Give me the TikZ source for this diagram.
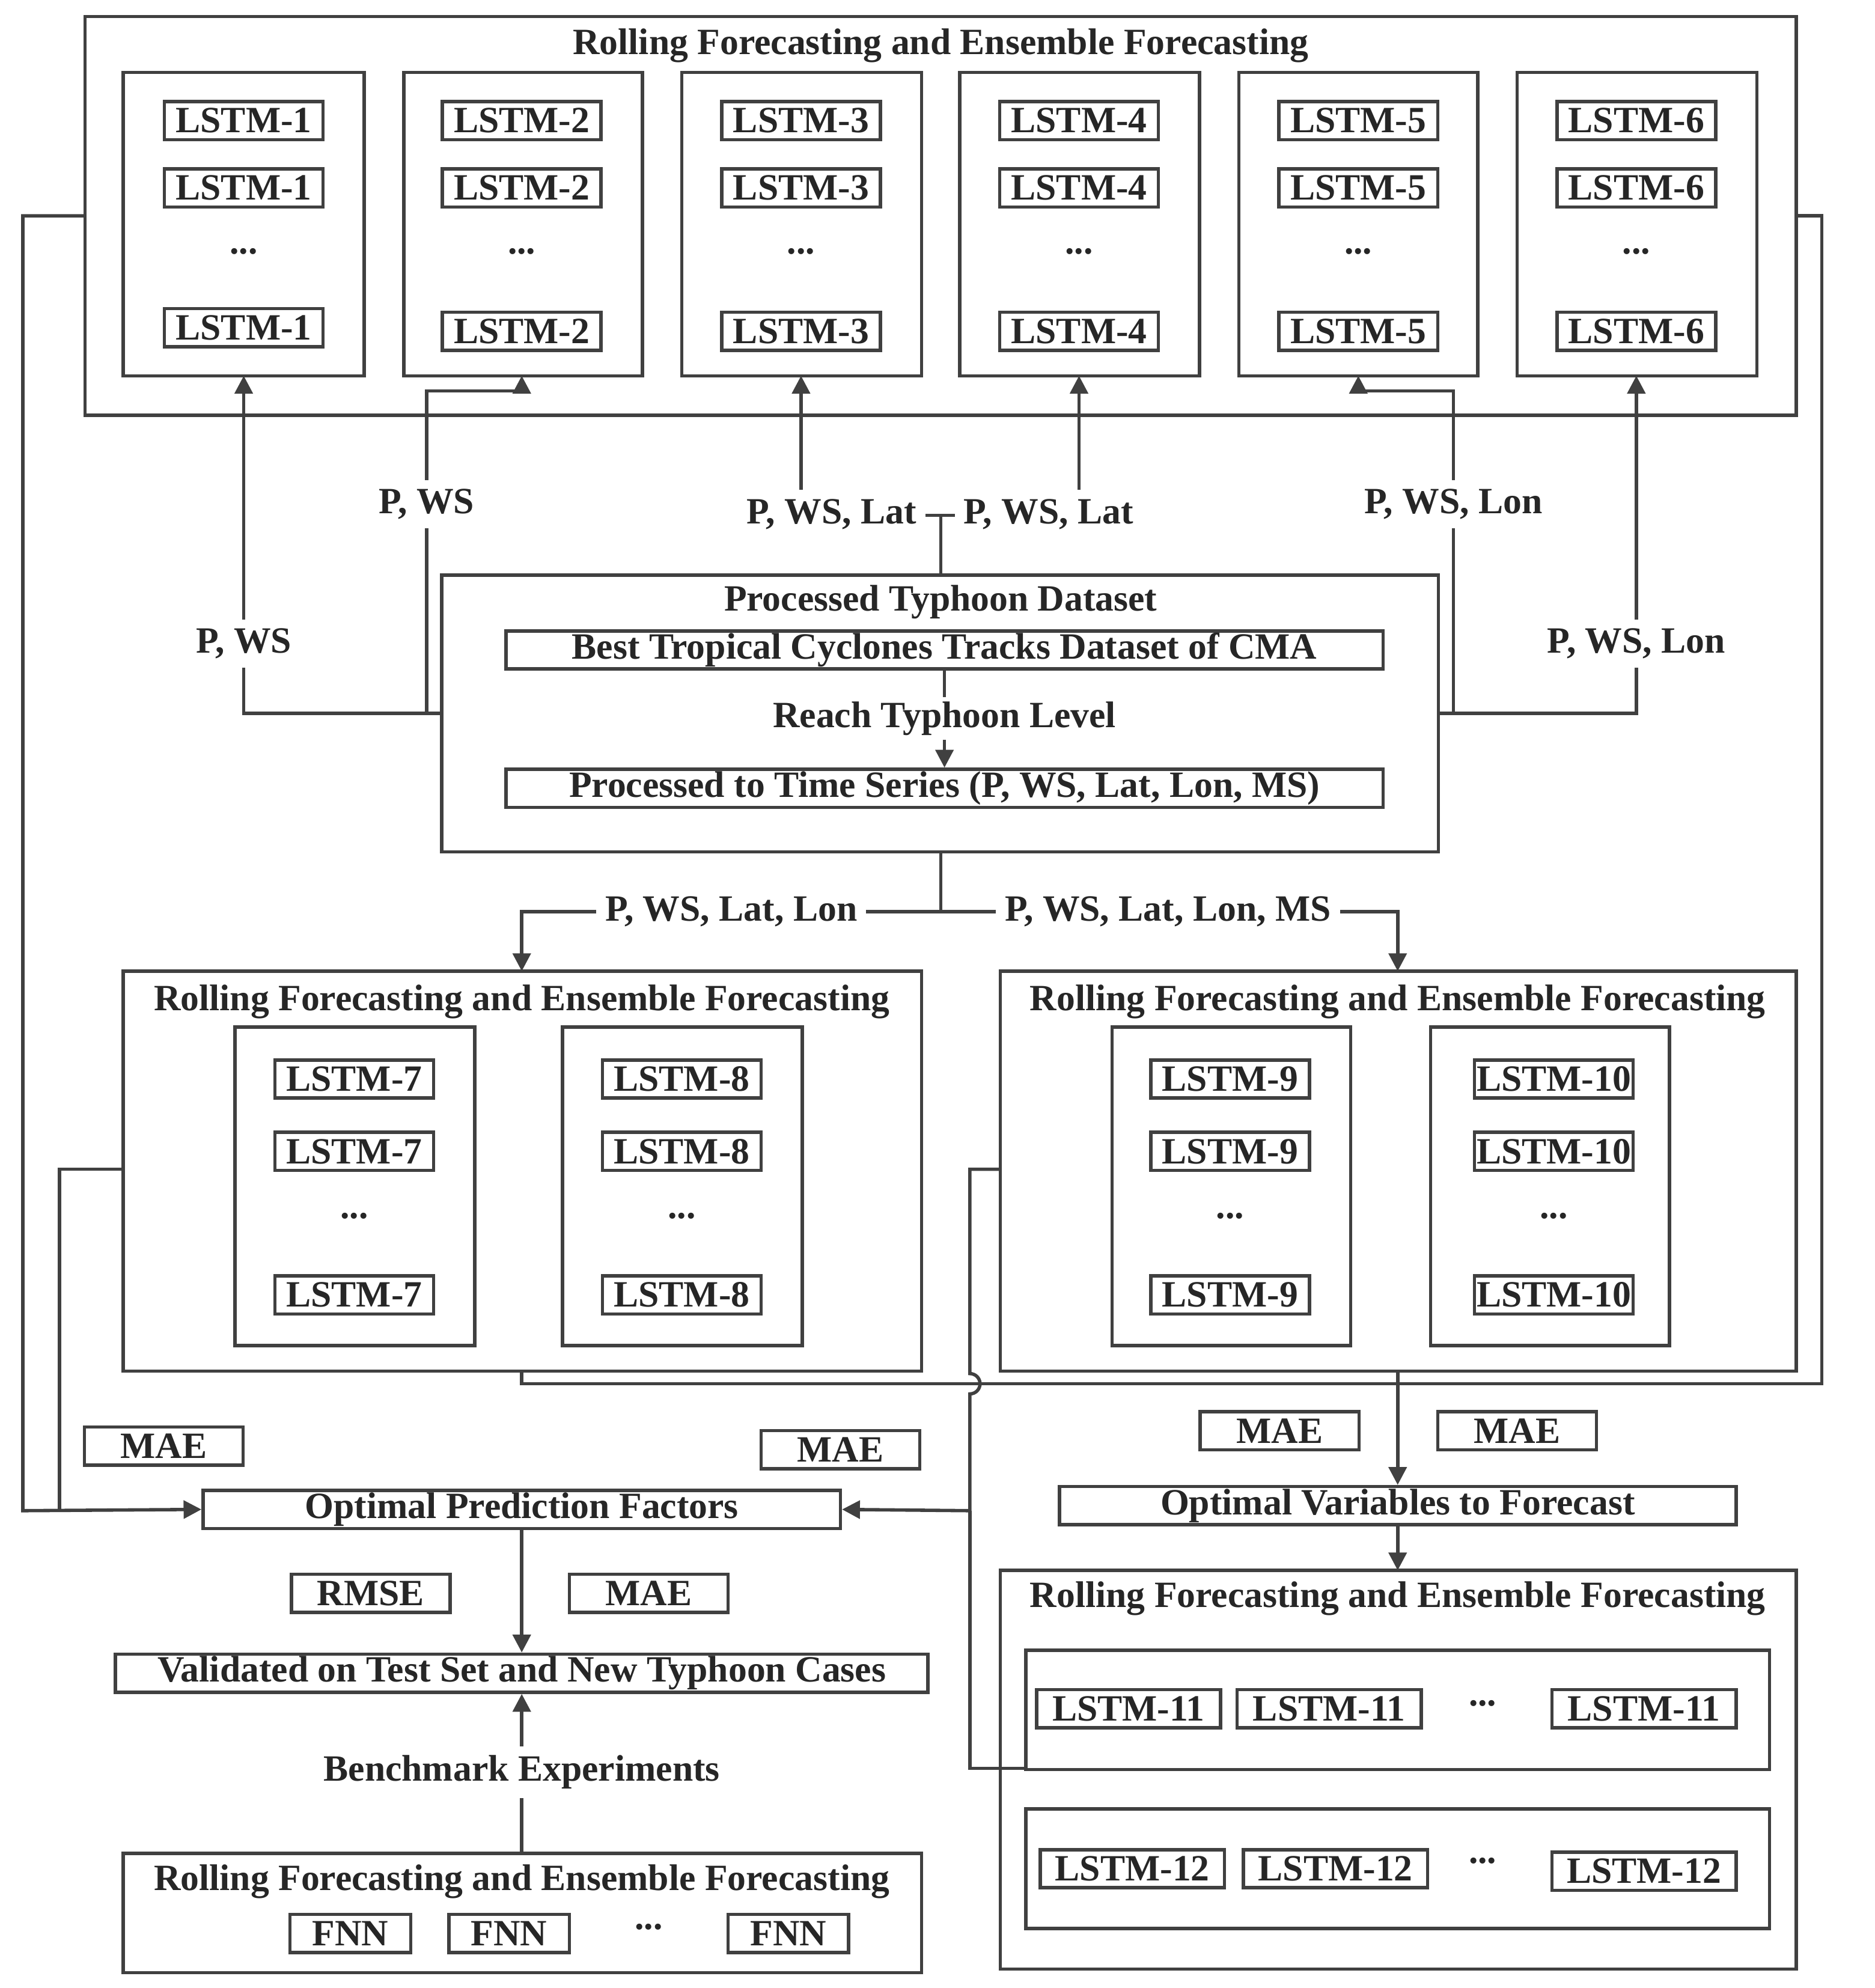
\documentclass[tikz,border=0pt]{standalone}
\usepackage{fontspec}
\setmainfont{Liberation Serif}
\usetikzlibrary{arrows.meta}
\begin{document}
\begin{tikzpicture}[x=0.01cm,y=-0.01cm,
  every node/.style={font=\fontsize{8.3}{10}\selectfont\bfseries,text=black!85,inner sep=1pt},
  ln/.style={draw=black!75,line width=0.75pt},
  ar/.style={ln,-{Triangle[length=4pt,width=4pt]}},
  sb/.style={draw=black!75,line width=0.75pt,minimum width=#1*0.01cm,minimum height=0.3cm,inner sep=0pt},
  sb/.default=125,
  lb/.style={fill=white,inner sep=2pt}]
\useasboundingbox (0,0) rectangle (1477,1566);
% top box
\draw[ln] (67,13) rectangle (1415,327);
\node (t1) at (741,36) {Rolling Forecasting and Ensemble Forecasting};
\foreach \a/\b/\c/\n/\ly in {97/287/192/1/258,318/506/411/2/261,537/726/631/3/261,756/945/850/4/261,976/1164/1070/5/261,1195/1384/1289/6/261}{
  \draw[ln] (\a,57) rectangle (\b,296);
  \node[sb] (c\n a) at (\c,95) {LSTM-\n};
  \node[sb] (c\n b) at (\c,148) {LSTM-\n};
  \node (c\n c) at (\c,198) {...};
  \node[sb] (c\n d) at (\c,\ly) {LSTM-\n};
}
% center box
\draw[ln] (348,453) rectangle (1133,671);
\node (pt) at (741,474) {Processed Typhoon Dataset};
\node[sb=691] (best) at (744,512) {Best Tropical Cyclones Tracks Dataset of CMA};
\node[sb=691] (proc) at (744,621) {Processed to Time Series (P, WS, Lat, Lon, MS)};
\draw[ar] (best.south) -- (proc.north);
\node[fill=white] (reach) at (744,566) {Reach Typhoon Level};
% upward connectors
\coordinate (bl) at (348,562); \coordinate (br) at (1133,562);
\draw[ar] (bl) -- (192,562) -- (192,296);
\node[lb] at (192,507) {P, WS};
\draw[ar] (336,562) -- (336,308) -- (411,308) -- (411,296);
\node[lb] at (336,397) {P, WS};
\draw[ar] (br) -- (1289,562) -- (1289,296);
\node[lb] at (1289,507) {P, WS, Lon};
\draw[ar] (1145,562) -- (1145,308) -- (1070,308) -- (1070,296);
\node[lb] at (1145,397) {P, WS, Lon};
\draw[ln] (741,453) -- (741,406);
\draw[ar] (741,406) -- (631,406) -- (631,296);
\draw[ar] (741,406) -- (850,406) -- (850,296);
\node[lb] at (655,405) {P, WS, Lat};
\node[lb] at (826,405) {P, WS, Lat};
% downward
\draw[ln] (741,671) -- (741,718);
\draw[ar] (741,718) -- (411,718) -- (411,765);
\draw[ar] (741,718) -- (1101,718) -- (1101,765);
\node[lb] at (576,718) {P, WS, Lat, Lon};
\node[lb] at (920,718) {P, WS, Lat, Lon, MS};
% middle boxes
\draw[ln] (97,765) rectangle (726,1080);
\node at (411,789) {Rolling Forecasting and Ensemble Forecasting};
\draw[ln] (788,765) rectangle (1415,1080);
\node at (1101,789) {Rolling Forecasting and Ensemble Forecasting};
\foreach \a/\b/\c/\n in {185/374/279/7,443/632/537/8,876/1064/969/9,1127/1315/1224/10}{
  \draw[ln] (\a,809) rectangle (\b,1060);
  \node[sb] (m\n a) at (\c,850) {LSTM-\n};
  \node[sb] (m\n b) at (\c,907) {LSTM-\n};
  \node (m\n c) at (\c,958) {...};
  \node[sb] (m\n d) at (\c,1020) {LSTM-\n};
}
% MAE etc
\node[sb] (mae1) at (129,1139) {MAE};
\node[sb] (mae2) at (662,1142) {MAE};
\node[sb] (mae3) at (1008,1127) {MAE};
\node[sb] (mae4) at (1195,1127) {MAE};
\node[sb=502] (opf) at (411,1189) {Optimal Prediction Factors};
\node[sb=533] (ovf) at (1101,1186) {Optimal Variables to Forecast};
\node[sb] (rmse) at (292,1255) {RMSE};
\node[sb] (mae5) at (511,1255) {MAE};
\node[sb=640] (val) at (411,1318) {Validated on Test Set and New Typhoon Cases};
% feedback lines
\draw[ar] (67,170) -- (18,170) -- (18,1190) -- (opf.west);
\draw[ln] (97,921) -- (47,921) -- (47,1190);
\draw[ln] (411,1080) -- (411,1090) -- (1435,1090) -- (1435,170) -- (1415,170);
\draw[ar] (1101,1080) -- (ovf.north);
\draw[ar] (788,921) -- (764,921) -- (764,1082) arc (-90:90:8) -- (764,1190) -- (opf.east);
\draw[ln] (764,1190) -- (764,1393) -- (808,1393);
\draw[ar] (ovf.south) -- (1101,1237);
\draw[ar] (opf.south) -- (val.north);
% benchmark
\draw[ar] (411,1460) -- (val.south);
\node[lb] (bench) at (411,1396) {Benchmark Experiments};
\draw[ln] (97,1460) rectangle (726,1554);
\node at (411,1482) {Rolling Forecasting and Ensemble Forecasting};
\node[sb=95] (f1) at (276,1523) {FNN};
\node[sb=95] (f2) at (401,1523) {FNN};
\node (f3) at (511,1518) {...};
\node[sb=95] (f4) at (621,1523) {FNN};
% bottom right
\draw[ln] (788,1237) rectangle (1415,1551);
\node at (1101,1259) {Rolling Forecasting and Ensemble Forecasting};
\draw[ln] (808,1300) rectangle (1394,1394);
\draw[ln] (808,1425) rectangle (1394,1519);
\node[sb=145] (l11a) at (889,1346) {LSTM-11};
\node[sb=145] (l11b) at (1047,1346) {LSTM-11};
\node (l11c) at (1168,1342) {...};
\node[sb=145] (l11d) at (1295,1346) {LSTM-11};
\node[sb=145] (l12a) at (892,1472) {LSTM-12};
\node[sb=145] (l12b) at (1052,1472) {LSTM-12};
\node (l12c) at (1168,1466) {...};
\node[sb=145] (l12d) at (1295,1474) {LSTM-12};
\end{tikzpicture}
\end{document}
